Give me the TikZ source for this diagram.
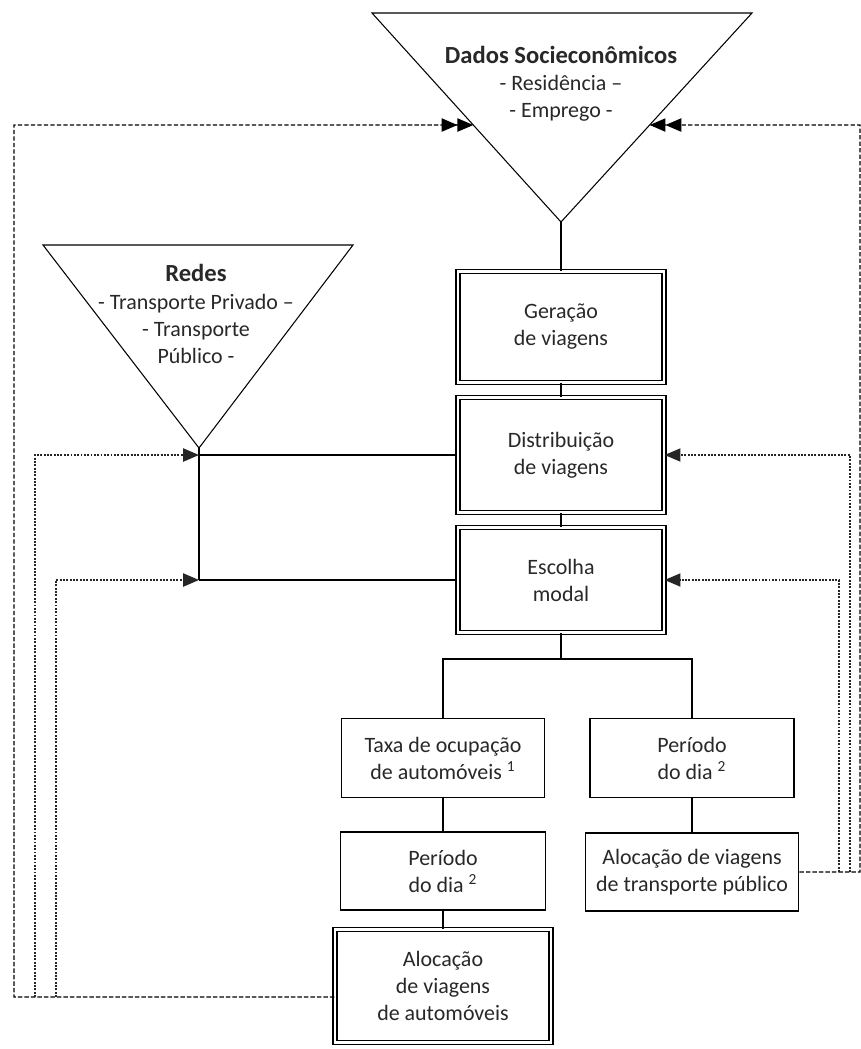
\documentclass[tikz,border=0pt]{standalone}
\usepackage{fontspec}
\setmainfont{Carlito}
\usetikzlibrary{arrows.meta, calc}
\definecolor{textgray}{RGB}{40, 40, 40}
\newcommand{\boxtitle}[1]{{\fontsize{14}{17}\selectfont\bfseries #1}}

\begin{document}
\begin{tikzpicture}[
    x=0.02cm, y=-0.02cm,
    >={Triangle[length=9pt,width=7.5pt]},
    every node/.style={text=textgray, font=\fontsize{12.5}{15.4}\selectfont, align=center},
    stage/.style={rectangle, draw=black, line width=0.8pt, double=white, double distance=1.3pt, minimum width=4.12cm},
    task/.style={rectangle, draw=black, line width=1.1pt, minimum height=1.58cm},
    funnel/.style={draw=black, line width=0.6pt},
    link/.style={draw=black, line width=1pt},
    fbdash/.style={draw=black, line width=0.8pt, dash pattern=on 2.5pt off 1.2pt},
    fbdot/.style={draw=black!85, line width=0.8pt, dash pattern=on 1.1pt off 0.8pt}
]
\useasboundingbox (0,0) rectangle (861,1049);

% Dados socioeconomicos
\coordinate (dadosL) at (372,13);
\coordinate (dadosR) at (752,13);
\coordinate (dadosA) at (561,222);
\draw [funnel] (dadosL) -- (dadosR) -- (dadosA) -- cycle;
\node (dados) at (561,84) {\boxtitle{Dados Socieconômicos}\\- Residência –\\- Emprego -};

% Redes
\coordinate (redesL) at (43,245);
\coordinate (redesR) at (353,245);
\coordinate (redesA) at (199,448);
\draw [funnel] (redesL) -- (redesR) -- (redesA) -- cycle;
\node (redes) at (196,314) {\boxtitle{Redes}\\- Transporte Privado –\\- Transporte\\Público -};

% Main stages
\node (geracao) [stage, minimum height=2.22cm] at (561,327) {Geração\\de viagens};
\node (distrib) [stage, minimum height=2.3cm] at (561,455) {Distribuição\\de viagens};
\node (escolha) [stage, minimum height=2.1cm] at (561,580) {Escolha\\modal};

% Branches
\node (taxa) [task, minimum width=4.06cm] at (443,758) {Taxa de ocupação\\de automóveis \textsuperscript{1}};
\node (periodoB) [task, minimum width=4.08cm] at (692,758) {Período\\do dia \textsuperscript{2}};
\node (periodoA) [task, minimum width=4.1cm, minimum height=1.56cm] at (443,871) {Período\\do dia \textsuperscript{2}};
\node (alocTP) [task, minimum width=4.26cm, minimum height=1.56cm] at (692,872) {Alocação de viagens\\de transporte público};
\node (alocAuto) [stage, minimum width=4.32cm, minimum height=2.26cm] at (443,986) {Alocação\\de viagens\\de automóveis};

% Solid connectors
\draw [link] (dadosA) -- (geracao);
\draw [link] (geracao) -- (distrib);
\draw [link] (distrib) -- (escolha);
\coordinate (split) at ($(escolha.south)+(0,26)$);
\draw [link] (escolha.south) -- (split);
\draw [link] (taxa.north) |- (split) -| (periodoB.north);
\draw [link] (taxa) -- (periodoA);
\draw [link] (periodoA) -- (alocAuto);
\draw [link] (periodoB) -- (alocTP);

\coordinate (jDist) at (redesA |- distrib.west);
\coordinate (jModal) at (redesA |- escolha.west);
\draw [link] (redesA) -- (jModal);
\draw [link] (jDist) -- (distrib.west);
\draw [link] (jModal) -- (escolha.west);

% Feedback, left side
\coordinate (dadosInL) at ($(dadosL)!0.536!(dadosA)$);
\coordinate (dadosInR) at ($(dadosR)!0.536!(dadosA)$);
\coordinate (autoOut) at ([yshift=-0.22cm]alocAuto.west);
\coordinate (tapA) at (35,997);
\coordinate (tapB) at (56,997);
\draw [fbdash, ->>] (autoOut) -| (14,125) -- (dadosInL);
\draw [fbdot, ->] (tapA) |- (jDist);
\draw [fbdot, ->] (tapB) |- (jModal);

% Feedback, right side
\coordinate (tpOut) at (alocTP.east);
\coordinate (tapC) at (850,872);
\coordinate (tapD) at (839,872);
\draw [fbdash, ->>] (tpOut) -| (860,125) -- (dadosInR);
\draw [fbdot, ->] (tapC) |- (distrib.east);
\draw [fbdot, ->] (tapD) |- (escolha.east);

\end{tikzpicture}
\end{document}
